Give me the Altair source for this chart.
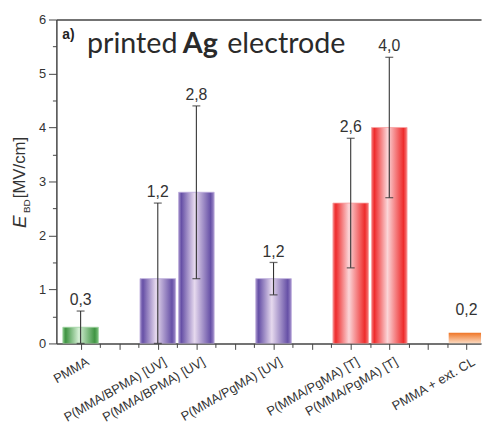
import json
import altair as alt
import pandas as pd

# ---- data ----
slots = ["PMMA", "", "P(MMA/BPMA) [UV]", "P(MMA/BPMA) [UV]", "", "P(MMA/PgMA) [UV]", "",
         "P(MMA/PgMA) [T]", "P(MMA/PgMA) [T]", "", "PMMA + ext. CL"]
values = [0.3, 1.2, 2.8, 1.2, 2.6, 4.0, 0.2]
err_low = [0.0, 0.0, 1.2, 0.9, 1.4, 2.7, None]
err_high = [0.6, 2.6, 4.4, 1.5, 3.8, 5.3, None]
groups = ["PMMA", "BPMA", "BPMA", "PgMA_UV", "PgMA_T", "PgMA_T", "extCL"]
y_major = [0, 1, 2, 3, 4, 5, 6]
y_minor = [0.5, 1.5, 2.5, 3.5, 4.5, 5.5]

idx = [i for i, s in enumerate(slots) if s]
df = pd.DataFrame({
    "pos": idx,
    "name": [slots[i] for i in idx],
    "value": values,
    "lo": err_low,
    "hi": err_high,
    "group": groups,
})
df["label"] = [f"{v:.1f}".replace(".", ",") for v in values]
df["anchor"] = [h if h is not None else v for h, v in zip(err_high, values)]
df["has_err"] = [h is not None for h in err_high]

x_major = list(range(len(slots)))
x_minor = [i + 0.5 for i in range(len(slots) - 1)]
label_expr = json.dumps(slots) + "[round(datum.value)]"

AXC = "#444444"
TXT = "#333333"
FONT = "Liberation Sans"

xs = alt.Scale(domain=[-0.5, 10.25], nice=False, zero=False)
ys = alt.Scale(domain=[0, 6], nice=False, zero=True)


def hgrad(edge, mid, light):
    return alt.Gradient(
        gradient="linear", x1=0, x2=1, y1=0, y2=0,
        stops=[
            alt.GradientStop(offset=0, color=mid),
            alt.GradientStop(offset=0.08, color=edge),
            alt.GradientStop(offset=0.45, color=light),
            alt.GradientStop(offset=0.9, color=edge),
            alt.GradientStop(offset=1, color=mid),
        ],
    )


base = alt.Chart(df)

x_axis_major = alt.Axis(values=x_major, labelExpr=label_expr, tickSize=6, tickColor=AXC,
                        domainColor=AXC, domainWidth=1.5, labelAngle=-30, labelAlign="right",
                        labelBaseline="top", labelFontSize=13, labelFont=FONT, labelColor=TXT,
                        labelPadding=6, labelOffset=4, labelOverlap=False, labelFlush=False,
                        labelBound=False, grid=False, title=None, orient="bottom")
y_axis_major = alt.Axis(values=y_major, tickSize=8, tickColor=AXC, domainColor=AXC,
                        domainWidth=1.5, labelFontSize=13, labelFont=FONT, labelColor=TXT,
                        labelPadding=3, grid=False, title=None, orient="left", labelFlush=False)
x_axis_minor = alt.Axis(values=x_minor, tickSize=4, tickColor=AXC, labels=False, domain=False,
                        grid=False, title=None, orient="bottom")
y_axis_minor = alt.Axis(values=y_minor, tickSize=4, tickColor=AXC, labels=False, domain=False,
                        grid=False, title=None, orient="left")
x_axis_top = alt.Axis(ticks=False, labels=False, domain=True, domainColor=AXC, domainWidth=1.5,
                      grid=False, title=None, orient="top")

green = base.transform_filter(alt.datum.group == "PMMA").mark_bar(
    size=36, clip=True, color=hgrad("#3f9442", "#7cc07e", "#d6f0d6"),
    stroke="#9fd3a0", strokeWidth=0.8
).encode(x=alt.X("pos:Q", scale=xs, axis=x_axis_major),
         y=alt.Y("value:Q", scale=ys, axis=y_axis_major))

purple = base.transform_filter(alt.datum.group == "BPMA").mark_bar(
    size=36, clip=True, color=hgrad("#6650a6", "#9f8cc9", "#e6d9ee"),
    stroke="#b9a9da", strokeWidth=0.8
).encode(x=alt.X("pos:Q", scale=xs, axis=x_axis_minor),
         y=alt.Y("value:Q", scale=ys, axis=y_axis_minor))

purple2 = base.transform_filter(alt.datum.group == "PgMA_UV").mark_bar(
    size=36, clip=True, color=hgrad("#6650a6", "#9f8cc9", "#e6d9ee"),
    stroke="#b9a9da", strokeWidth=0.8
).encode(x=alt.X("pos:Q", scale=xs, axis=x_axis_top),
         y=alt.Y("value:Q", scale=ys, axis=None))

red = base.transform_filter(alt.datum.group == "PgMA_T").mark_bar(
    size=36, clip=True, color=hgrad("#ee2b2b", "#f57b7b", "#fbd5d8"),
    stroke="#f7a0a0", strokeWidth=0.8
).encode(x=alt.X("pos:Q", scale=xs, axis=None),
         y=alt.Y("value:Q", scale=ys, axis=None))

orange = base.transform_filter(alt.datum.group == "extCL").mark_bar(
    size=36, clip=True,
    color=alt.Gradient(gradient="linear", x1=0, x2=0, y1=0, y2=1,
                       stops=[alt.GradientStop(offset=0, color="#ef7424"),
                              alt.GradientStop(offset=1, color="#fcdcc4")])
).encode(x=alt.X("pos:Q", scale=xs, axis=None),
         y=alt.Y("value:Q", scale=ys, axis=None))

err = base.transform_filter(alt.datum.has_err)
rules = err.mark_rule(color=TXT, strokeWidth=1.1, clip=True).encode(
    x=alt.X("pos:Q", scale=xs, axis=None),
    y=alt.Y("lo:Q", scale=ys, axis=None), y2="hi:Q")
caps_hi = err.mark_tick(orient="horizontal", size=8, thickness=1.3, color=TXT).encode(
    x=alt.X("pos:Q", scale=xs, axis=None), y=alt.Y("hi:Q", scale=ys, axis=None))
caps_lo = err.mark_tick(orient="horizontal", size=8, thickness=1.3, color=TXT).encode(
    x=alt.X("pos:Q", scale=xs, axis=None), y=alt.Y("lo:Q", scale=ys, axis=None))

lab_err = err.mark_text(baseline="bottom", dy=-3, fontSize=16, font=FONT, color=TXT).encode(
    x=alt.X("pos:Q", scale=xs, axis=None), y=alt.Y("anchor:Q", scale=ys, axis=None),
    text="label:N")
lab_noerr = base.transform_filter(~alt.datum.has_err).mark_text(
    baseline="bottom", dy=-15, fontSize=16, font=FONT, color=TXT).encode(
    x=alt.X("pos:Q", scale=xs, axis=None), y=alt.Y("anchor:Q", scale=ys, axis=None),
    text="label:N")

one = alt.Chart(pd.DataFrame({"k": [0]}))


def txt(s, x, y, **kw):
    return one.mark_text(text=s, align="left", baseline="alphabetic", **kw).encode(
        x=alt.value(x), y=alt.value(y))


title_a = txt("a)", 6, 20, fontSize=14, fontWeight="bold", font=FONT, color="#222")
title_1 = txt("printed", 31, 34, fontSize=29, font="Lato", color="#2a2a2a")
title_2 = txt("Ag", 128, 34, fontSize=29, font="Lato", fontWeight="bold", color="#2a2a2a")
title_3 = txt("electrode", 173, 34, fontSize=29, font="Lato", color="#2a2a2a")

yt_e = txt("E", -31, 211, angle=270, fontSize=19, fontStyle="italic", font=FONT, color=TXT)
yt_bd = txt("BD", -27, 196, angle=270, fontSize=10, font=FONT, color=TXT)
yt_unit = txt("[MV/cm]", -32, 181, angle=270, fontSize=17, font=FONT, color=TXT)

chart = alt.layer(
    green, purple, purple2, red, orange, rules, caps_hi, caps_lo, lab_err, lab_noerr,
    title_a, title_1, title_2, title_3, yt_e, yt_bd, yt_unit
).resolve_axis(x="independent", y="independent").properties(
    width=430, height=328,
    autosize=alt.AutoSizeParams(type="none"),
    padding={"left": 49, "top": 9, "right": 3, "bottom": 86},
).configure_view(stroke=None).configure_axis(
    labelFont=FONT, labelColor=TXT, grid=False
)

chart.save("out.html", embed_options={"renderer": "svg", "actions": False})
